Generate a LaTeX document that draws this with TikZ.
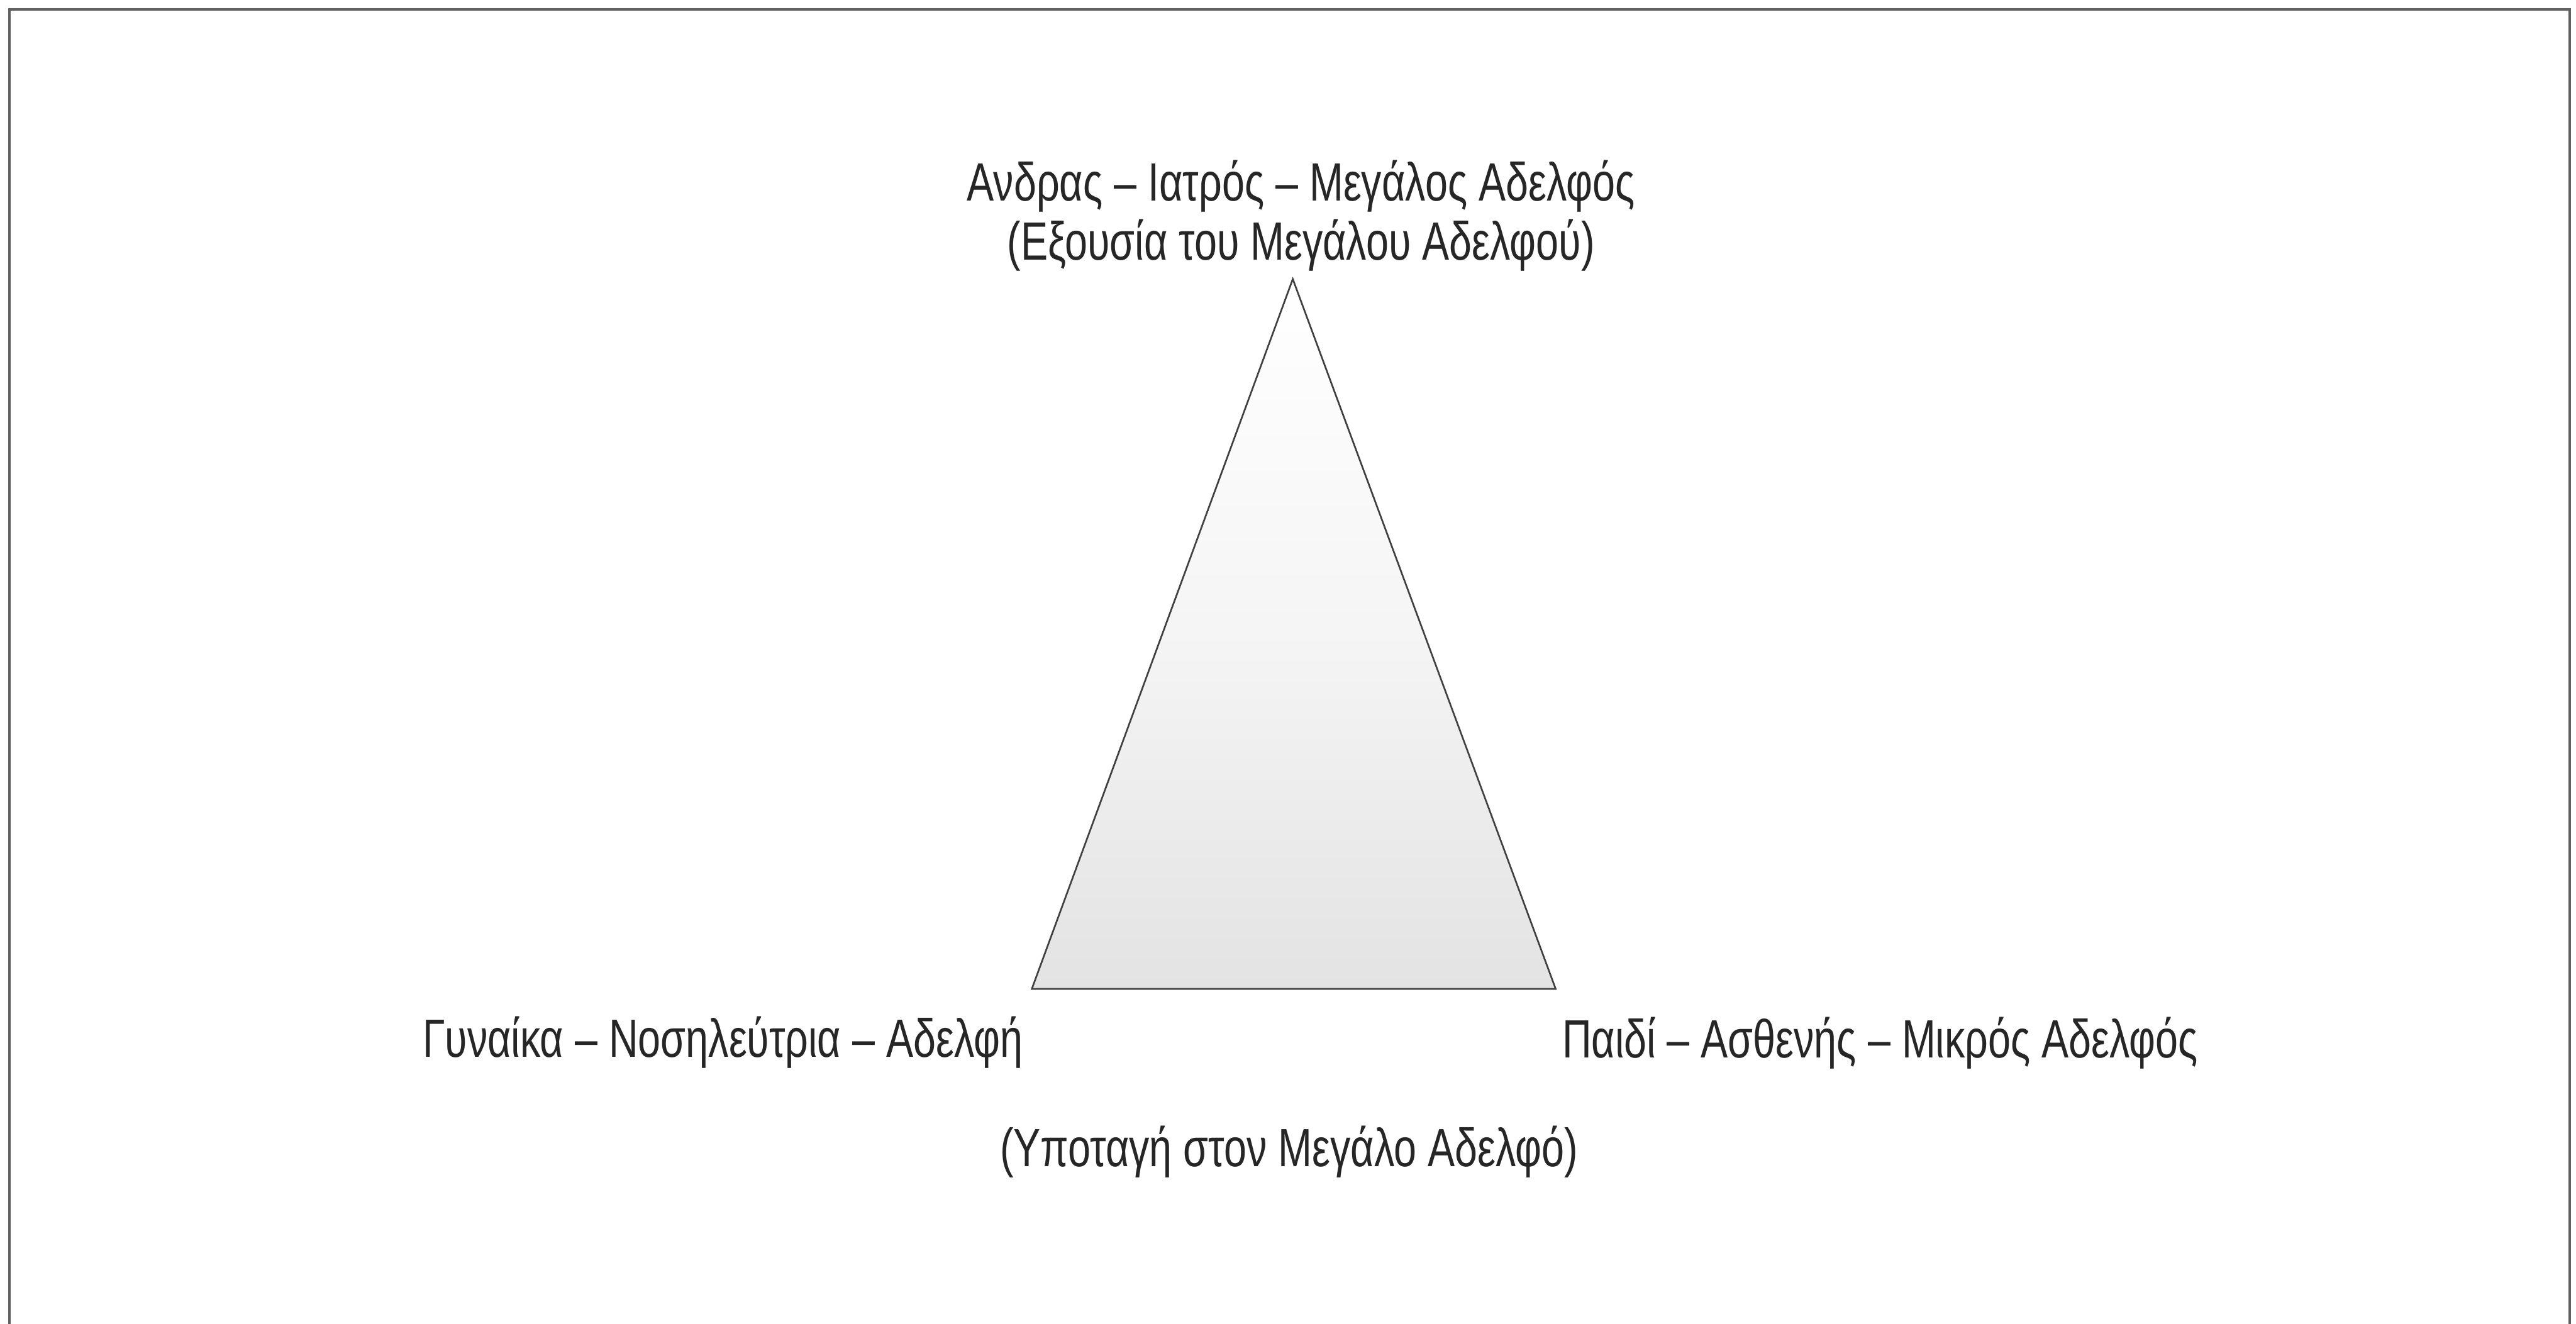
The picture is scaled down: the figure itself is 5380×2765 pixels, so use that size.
\documentclass[tikz,border=0pt]{standalone}
\usepackage{fontspec}
\setmainfont[FakeStretch=0.755]{Liberation Sans}
\usepackage{xcolor}
\usepackage{tikz}
\usetikzlibrary{positioning}

\begin{document}
\begin{tikzpicture}[
    x=0.01cm, y=-0.01cm,
    label/.style={inner sep=0pt, font=\fontsize{32}{38}\selectfont, text=black!85},
    frame/.style={draw=black!62, line width=1.3pt},
    tri/.style={draw=black!75, line width=1pt, line join=miter, top color=white, bottom color=black!11, middle color=black!4}
]
\useasboundingbox (0,0) rectangle (5380,2765);

\draw [frame] (20,2800) -- (20,20) -- (5367,20) -- (5367,2800);

\coordinate (apex) at (2700,583);
\coordinate (left) at (2155,2066);
\coordinate (right) at (3249,2066);

\shade [tri] (apex) -- (left) -- (right) -- cycle;

\node (top1) [label, anchor=base] at (2717,420) {Ανδρας – Ιατρός – Μεγάλος Αδελφός};
\node (top2) [label, anchor=base] at (2717,543) {(Εξουσία του Μεγάλου Αδελφού)};
\node (woman) [label, anchor=base east] at (2137,2208) {Γυναίκα – Νοσηλεύτρια – Αδελφή};
\node (child) [label, anchor=base west] at (3262,2210) {Παιδί – Ασθενής – Μικρός Αδελφός};
\node (submit) [label, anchor=base] at (2692,2437) {(Υποταγή στον Μεγάλο Αδελφό)};

\end{tikzpicture}
\end{document}
